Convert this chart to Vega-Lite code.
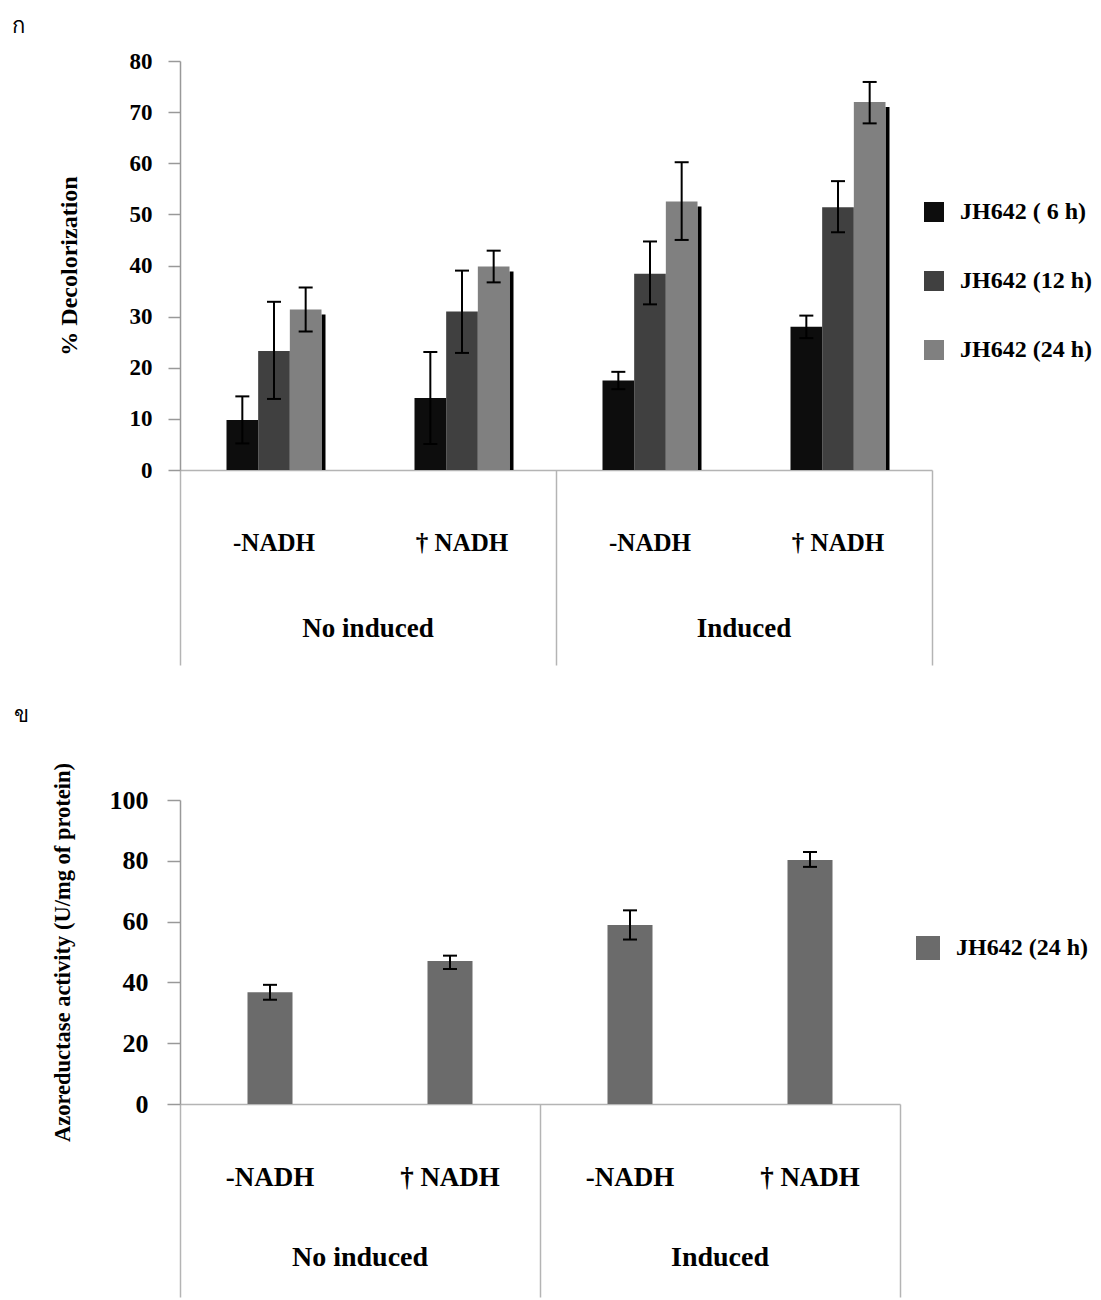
{
  "$schema": "https://vega.github.io/schema/vega-lite/v6.json",
  "padding": {"left": 12, "top": 15, "right": 0, "bottom": 0},
  "background": "white",
  "config": {
    "font": "Liberation Serif",
    "view": {"stroke": null},
    "axis": {"grid": false, "labelFont": "Liberation Serif", "labelFontWeight": "bold", "labelColor": "#000000", "titleFont": "Liberation Serif", "titleFontWeight": "bold", "titleColor": "#000000"},
    "legend": {"labelFont": "Liberation Serif", "labelFontWeight": "bold", "labelColor": "#000000", "padding": 0, "symbolType": "square", "symbolStrokeWidth": 0, "symbolOpacity": 1, "labelLimit": 300},
    "title": {"font": "Noto Sans", "fontWeight": "normal", "fontSize": 22, "color": "#000000", "anchor": "start", "frame": "group"}
  },
  "resolve": {"scale": {"color": "independent"}, "legend": {"color": "independent"}},
  "datasets": {
    "decol": [
      {"condition": "No induced|-NADH", "series": "JH642 ( 6 h)", "value": 9.8, "lo": 5.2, "hi": 14.4},
      {"condition": "No induced|-NADH", "series": "JH642 (12 h)", "value": 23.3, "lo": 13.9, "hi": 32.9},
      {"condition": "No induced|-NADH", "series": "JH642 (24 h)", "value": 31.4, "lo": 27.1, "hi": 35.7},
      {"condition": "No induced|† NADH", "series": "JH642 ( 6 h)", "value": 14.1, "lo": 5.1, "hi": 23.1},
      {"condition": "No induced|† NADH", "series": "JH642 (12 h)", "value": 31.0, "lo": 22.9, "hi": 39.0},
      {"condition": "No induced|† NADH", "series": "JH642 (24 h)", "value": 39.8, "lo": 36.7, "hi": 42.9},
      {"condition": "Induced|-NADH", "series": "JH642 ( 6 h)", "value": 17.5, "lo": 15.8, "hi": 19.2},
      {"condition": "Induced|-NADH", "series": "JH642 (12 h)", "value": 38.4, "lo": 32.4, "hi": 44.7},
      {"condition": "Induced|-NADH", "series": "JH642 (24 h)", "value": 52.5, "lo": 45.0, "hi": 60.2},
      {"condition": "Induced|† NADH", "series": "JH642 ( 6 h)", "value": 28.0, "lo": 25.8, "hi": 30.2},
      {"condition": "Induced|† NADH", "series": "JH642 (12 h)", "value": 51.4, "lo": 46.5, "hi": 56.5},
      {"condition": "Induced|† NADH", "series": "JH642 (24 h)", "value": 72.0, "lo": 67.8, "hi": 75.9}
    ],
    "azo": [
      {"condition": "No induced|-NADH", "series": "JH642 (24 h)", "value": 36.8, "lo": 34.3, "hi": 39.2},
      {"condition": "No induced|† NADH", "series": "JH642 (24 h)", "value": 47.0, "lo": 44.4, "hi": 48.8},
      {"condition": "Induced|-NADH", "series": "JH642 (24 h)", "value": 58.9, "lo": 54.1, "hi": 63.7},
      {"condition": "Induced|† NADH", "series": "JH642 (24 h)", "value": 80.3, "lo": 78.0, "hi": 82.9}
    ]
  },
  "spacing": 38,
  "vconcat": [
    {
      "width": 752,
      "height": 409,
      "title": {"text": "ก", "dx": -168, "offset": 12},
      "data": {"name": "decol"},
      "resolve": {"axis": {"x": "independent"}},
      "layer": [
        {
          "transform": [{"filter": "datum.series === 'JH642 (24 h)'"}],
          "mark": {"type": "rule", "xOffset": 49.5, "yOffset": 5, "strokeWidth": 4, "color": "#000000"},
          "encoding": {
            "x": {"field": "condition", "type": "nominal", "sort": ["No induced|-NADH", "No induced|† NADH", "Induced|-NADH", "Induced|† NADH"], "scale": {"paddingInner": 0, "paddingOuter": 0},
              "axis": {"orient": "bottom", "title": null, "values": ["No induced|-NADH", "Induced|-NADH"], "bandPosition": 0, "domain": false, "labels": false, "ticks": true, "tickSize": 195, "tickColor": "#b4b4b4", "tickWidth": 1.5}},
            "y": {"field": "value", "type": "quantitative", "title": "% Decolorization", "scale": {"domain": [0, 80], "nice": false}},
            "y2": {"datum": 0}
          }
        },
        {
          "mark": {"type": "bar"},
          "encoding": {
            "x": {"field": "condition", "type": "nominal", "sort": ["No induced|-NADH", "No induced|† NADH", "Induced|-NADH", "Induced|† NADH"], "scale": {"paddingInner": 0, "paddingOuter": 0},
              "axis": {"orient": "bottom", "title": null, "domain": true, "domainColor": "#b4b4b4", "domainWidth": 1.5, "ticks": false, "labelExpr": "split(datum.label, '|')[1]", "labelFontSize": 25, "labelPadding": 72, "labelBaseline": "middle", "labelAngle": 0}},
            "xOffset": {"field": "series", "type": "nominal", "sort": ["JH642 ( 6 h)", "JH642 (12 h)", "JH642 (24 h)"], "scale": {"paddingInner": 0, "paddingOuter": 0, "range": [46.5, 141.5]}},
            "y": {"field": "value", "type": "quantitative", "title": "% Decolorization", "scale": {"domain": [0, 80], "nice": false},
              "axis": {"values": [0, 10, 20, 30, 40, 50, 60, 70, 80], "domainColor": "#999999", "domainWidth": 1.5, "tickColor": "#999999", "tickWidth": 1.5, "tickSize": 12, "labelPadding": 16, "labelFontSize": 23, "titleFontSize": 24, "titlePadding": 48}},
            "color": {"field": "series", "type": "nominal", "sort": ["JH642 ( 6 h)", "JH642 (12 h)", "JH642 (24 h)"],
              "scale": {"domain": ["JH642 ( 6 h)", "JH642 (12 h)", "JH642 (24 h)"], "range": ["#0d0d0d", "#404040", "#808080"]},
              "legend": {"orient": "none", "legendX": 742, "legendY": 139, "title": null, "symbolSize": 400, "labelFontSize": 24, "rowPadding": 45, "labelOffset": 14}}
          }
        },
        {
          "mark": {"type": "rule", "strokeWidth": 2, "color": "#000000"},
          "encoding": {
            "x": {"field": "condition", "type": "nominal", "sort": ["No induced|-NADH", "No induced|† NADH", "Induced|-NADH", "Induced|† NADH"], "scale": {"paddingInner": 0, "paddingOuter": 0},
              "axis": {"orient": "bottom", "title": null, "values": ["Induced|† NADH"], "bandPosition": 1, "domain": false, "labels": false, "ticks": true, "tickSize": 195, "tickColor": "#b4b4b4", "tickWidth": 1.5}},
            "xOffset": {"field": "series", "type": "nominal", "sort": ["JH642 ( 6 h)", "JH642 (12 h)", "JH642 (24 h)"], "scale": {"paddingInner": 0, "paddingOuter": 0, "range": [46.5, 141.5]}},
            "y": {"field": "lo", "type": "quantitative", "title": "% Decolorization", "scale": {"domain": [0, 80], "nice": false}},
            "y2": {"field": "hi"}
          }
        },
        {
          "mark": {"type": "tick", "size": 14, "thickness": 2, "color": "#000000", "opacity": 1},
          "encoding": {
            "x": {"field": "condition", "type": "nominal", "sort": ["No induced|-NADH", "No induced|† NADH", "Induced|-NADH", "Induced|† NADH"], "scale": {"paddingInner": 0, "paddingOuter": 0},
              "axis": {"orient": "bottom", "title": null, "values": ["No induced|-NADH", "Induced|-NADH"], "labelOffset": 94, "domain": false, "ticks": false, "labelExpr": "split(datum.label, '|')[0]", "labelFontSize": 27, "labelPadding": 158, "labelBaseline": "middle", "labelAngle": 0}},
            "xOffset": {"field": "series", "type": "nominal", "sort": ["JH642 ( 6 h)", "JH642 (12 h)", "JH642 (24 h)"], "scale": {"paddingInner": 0, "paddingOuter": 0, "range": [46.5, 141.5]}},
            "y": {"field": "lo", "type": "quantitative", "title": "% Decolorization", "scale": {"domain": [0, 80], "nice": false}}
          }
        },
        {
          "mark": {"type": "tick", "size": 14, "thickness": 2, "color": "#000000", "opacity": 1},
          "encoding": {
            "x": {"field": "condition", "type": "nominal", "sort": ["No induced|-NADH", "No induced|† NADH", "Induced|-NADH", "Induced|† NADH"], "scale": {"paddingInner": 0, "paddingOuter": 0}, "axis": null},
            "xOffset": {"field": "series", "type": "nominal", "sort": ["JH642 ( 6 h)", "JH642 (12 h)", "JH642 (24 h)"], "scale": {"paddingInner": 0, "paddingOuter": 0, "range": [46.5, 141.5]}},
            "y": {"field": "hi", "type": "quantitative", "title": "% Decolorization", "scale": {"domain": [0, 80], "nice": false}}
          }
        }
      ]
    },
    {
      "width": 720,
      "height": 304,
      "title": {"text": "ข", "dx": -166, "offset": 35},
      "data": {"name": "azo"},
      "resolve": {"axis": {"x": "independent"}},
      "layer": [
        {
          "mark": {"type": "bar", "width": {"band": 0.25}},
          "encoding": {
            "x": {"field": "condition", "type": "nominal", "sort": ["No induced|-NADH", "No induced|† NADH", "Induced|-NADH", "Induced|† NADH"], "scale": {"paddingInner": 0, "paddingOuter": 0},
              "axis": {"orient": "bottom", "title": null, "domain": true, "domainColor": "#b4b4b4", "domainWidth": 1.5, "ticks": false, "labelExpr": "split(datum.label, '|')[1]", "labelFontSize": 27, "labelPadding": 73, "labelBaseline": "middle", "labelAngle": 0}},
            "y": {"field": "value", "type": "quantitative", "title": "Azoreductase activity (U/mg of protein)", "scale": {"domain": [0, 100], "nice": false},
              "axis": {"values": [0, 20, 40, 60, 80, 100], "domainColor": "#999999", "domainWidth": 1.5, "tickColor": "#999999", "tickWidth": 1.5, "tickSize": 13, "labelPadding": 19, "labelFontSize": 26, "titleFontSize": 22.5, "titlePadding": 35}},
            "color": {"field": "series", "type": "nominal",
              "scale": {"domain": ["JH642 (24 h)"], "range": ["#6b6b6b"]},
              "legend": {"orient": "none", "legendX": 736, "legendY": 136, "title": null, "symbolSize": 576, "labelFontSize": 24, "labelOffset": 16}}
          }
        },
        {
          "mark": {"type": "rule", "strokeWidth": 2, "color": "#000000"},
          "encoding": {
            "x": {"field": "condition", "type": "nominal", "sort": ["No induced|-NADH", "No induced|† NADH", "Induced|-NADH", "Induced|† NADH"], "scale": {"paddingInner": 0, "paddingOuter": 0},
              "axis": {"orient": "bottom", "title": null, "values": ["No induced|-NADH", "Induced|-NADH"], "bandPosition": 0, "domain": false, "labels": false, "ticks": true, "tickSize": 193, "tickColor": "#b4b4b4", "tickWidth": 1.5}},
            "y": {"field": "lo", "type": "quantitative", "title": "Azoreductase activity (U/mg of protein)", "scale": {"domain": [0, 100], "nice": false}},
            "y2": {"field": "hi"}
          }
        },
        {
          "mark": {"type": "tick", "size": 14, "thickness": 2, "color": "#000000", "opacity": 1},
          "encoding": {
            "x": {"field": "condition", "type": "nominal", "sort": ["No induced|-NADH", "No induced|† NADH", "Induced|-NADH", "Induced|† NADH"], "scale": {"paddingInner": 0, "paddingOuter": 0},
              "axis": {"orient": "bottom", "title": null, "values": ["Induced|† NADH"], "bandPosition": 1, "domain": false, "labels": false, "ticks": true, "tickSize": 193, "tickColor": "#b4b4b4", "tickWidth": 1.5}},
            "y": {"field": "lo", "type": "quantitative", "title": "Azoreductase activity (U/mg of protein)", "scale": {"domain": [0, 100], "nice": false}}
          }
        },
        {
          "mark": {"type": "tick", "size": 14, "thickness": 2, "color": "#000000", "opacity": 1},
          "encoding": {
            "x": {"field": "condition", "type": "nominal", "sort": ["No induced|-NADH", "No induced|† NADH", "Induced|-NADH", "Induced|† NADH"], "scale": {"paddingInner": 0, "paddingOuter": 0},
              "axis": {"orient": "bottom", "title": null, "values": ["No induced|-NADH", "Induced|-NADH"], "labelOffset": 90, "domain": false, "ticks": false, "labelExpr": "split(datum.label, '|')[0]", "labelFontSize": 28, "labelPadding": 153, "labelBaseline": "middle", "labelAngle": 0}},
            "y": {"field": "hi", "type": "quantitative", "title": "Azoreductase activity (U/mg of protein)", "scale": {"domain": [0, 100], "nice": false}}
          }
        }
      ]
    }
  ]
}
